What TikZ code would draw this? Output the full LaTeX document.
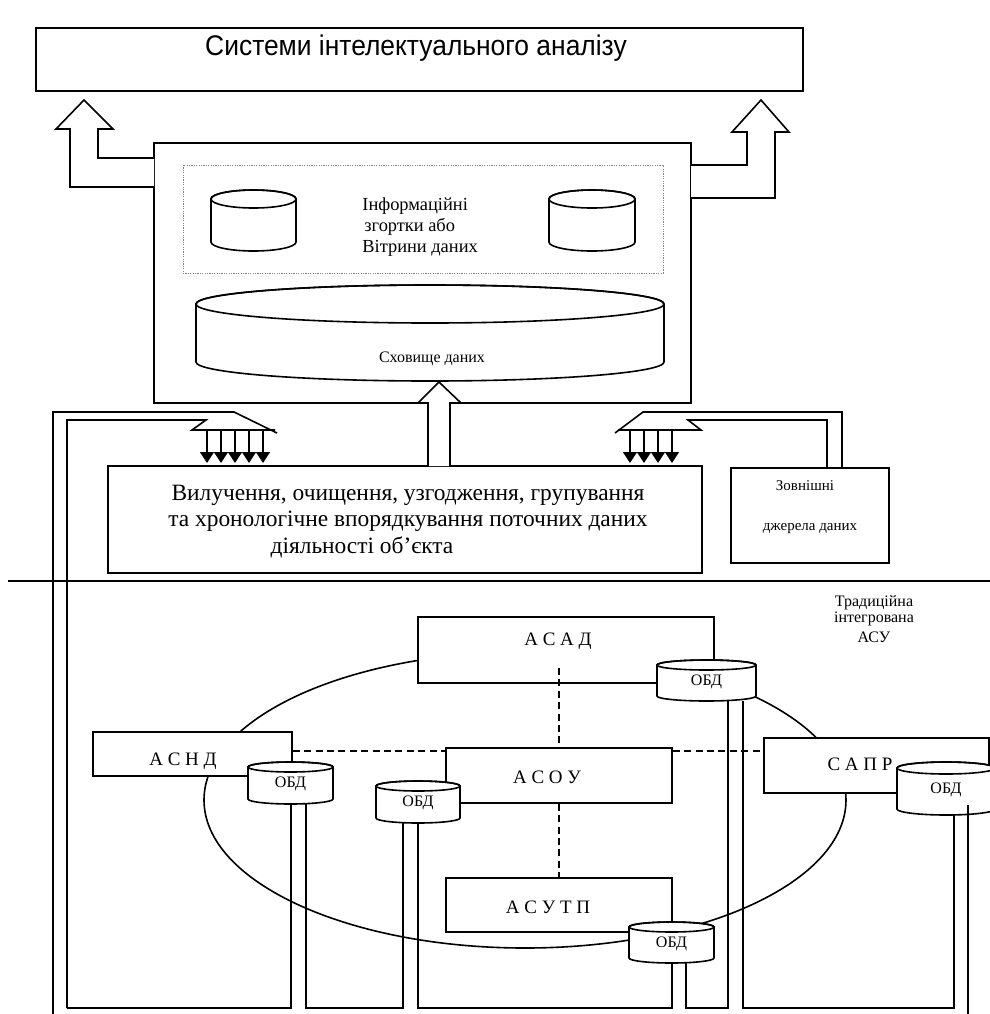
\documentclass[tikz,border=0pt]{standalone}
\usepackage{fontspec}
\setmainfont{Liberation Serif}
\newfontfamily\titlefont[FakeStretch=0.93]{Liberation Sans}
\usetikzlibrary{arrows.meta}

\tikzset{
  pen/.style={line width=0.8pt},
  box/.style={draw, fill=white, line width=0.8pt, inner sep=0pt},
  lbl/.style={inner sep=0pt, font=\fontsize{9.5}{11}\selectfont},
  link/.style={dash pattern=on 3.5pt off 2.2pt, line width=0.7pt},
  bus/.style={line width=0.8pt},
  drop/.style={-{Triangle[width=7pt,length=5.5pt]}, line width=0.6pt},
}

% database cylinder: name, x1, y1 (top), x2, y2 (bottom), ellipse radius, text
\newcommand{\dbcyl}[7]{%
  \pgfmathsetmacro{\cylcx}{(#2+#4)/2}
  \pgfmathsetmacro{\cylrx}{(#4-#2)/2}
  \pgfmathsetmacro{\cylya}{#3+#6}
  \pgfmathsetmacro{\cylyb}{#5-#6}
  \pgfmathsetmacro{\cylw}{(#4-#2)/2}
  \pgfmathsetmacro{\cylh}{(#5-#3)/2}
  \pgfmathsetmacro{\cylcy}{(#3+#5)/2}
  \path[draw, fill=white, line width=0.8pt] (#2,\cylya) -- (#2,\cylyb)
     arc[start angle=180, end angle=0, x radius=\cylrx, y radius=#6] -- (#4,\cylya)
     arc[start angle=0, end angle=-180, x radius=\cylrx, y radius=#6] -- cycle;
  \draw[line width=0.8pt] (\cylcx,\cylya) ellipse[x radius=\cylrx, y radius=#6];
  \node[inner sep=0pt, minimum width=\cylw pt, minimum height=\cylh pt,
        font=\fontsize{8}{9}\selectfont] (#1) at (\cylcx,\cylcy+1) {#7};
}

\begin{document}
\begin{tikzpicture}[x=0.5pt,y=-0.5pt]
\useasboundingbox (0,0) rectangle (990,1014);

% ---------- upper part: data warehouse ----------
\node[box, minimum width=383.5pt, minimum height=31.5pt] (sia) at (419.5,59.5) {};
\node[inner sep=0pt, font=\titlefont\fontsize{14.2}{16}\selectfont] (siat) at (416,48)
  {Системи інтелектуального аналізу};

\node[box, minimum width=268.5pt, minimum height=130pt] (dw) at (422.5,273) {};
\node[draw=gray, dash pattern=on 0.6pt off 0.6pt, line width=0.5pt, inner sep=0pt,
      minimum width=240pt, minimum height=54pt] (marts) at (423,219) {};

\dbcyl{mart1}{211}{190}{296}{251}{9}{}
\dbcyl{mart2}{549}{190}{635}{251}{9}{}
\node[align=left, anchor=west, inner sep=0pt, font=\fontsize{9.2}{10.6}\selectfont] (martt)
  at (362,227) {Інформаційні\\\hspace*{1pt}згортки або\\Вітрини даних};

\dbcyl{store}{196}{285}{664}{381}{19}{}
\node[inner sep=0pt, font=\fontsize{8}{9}\selectfont] (storet) at (432,359) {Сховище даних};

% hollow arrows up to the analysis systems
\draw[pen, fill=white] (154,187) -- (70,187) -- (70,129) -- (56,129) -- (84,100)
  -- (113,129) -- (98,129) -- (98,158) -- (154,158);
\draw[pen, fill=white] (691,165) -- (747,165) -- (747,132) -- (732,132) -- (761,100)
  -- (789,132) -- (775,132) -- (775,198) -- (691,198);

% ---------- extraction layer ----------
\node[box, minimum width=297pt, minimum height=53.5pt] (proc) at (405,519.5) {};
\node[inner sep=0pt, font=\fontsize{11.7}{13}\selectfont] (proc1) at (408,495)
  {Вилучення, очищення, узгодження, групування};
\node[inner sep=0pt, font=\fontsize{11.7}{13}\selectfont] (proc2) at (408,521)
  {та хронологічне впорядкування поточних даних};
\node[inner sep=0pt, font=\fontsize{11.7}{13}\selectfont] (proc3) at (362,547)
  {діяльності об’єкта};

\node[box, minimum width=79pt, minimum height=47.5pt] (ext) at (810,515.5) {};
\node[inner sep=0pt, font=\fontsize{7.5}{9}\selectfont] (ext1) at (805,486) {Зовнішні};
\node[inner sep=0pt, font=\fontsize{7.5}{9}\selectfont] (ext2) at (810,529) {джерела даних};

% central hollow arrow
\draw[pen, fill=white] (428,466) -- (428,403) -- (418,403) -- (439,382) -- (461,403)
  -- (450,403) -- (450,466);

% left intake funnel
\draw[pen] (53,1014) -- (53,412) -- (234,412) -- (277,433);
\draw[pen] (67,1008) -- (67,420) -- (206,420) -- (192,430) -- (275,430);
\foreach \x in {207,221,235,249,263}
  \draw[drop] (\x,430) -- (\x,463);

% right intake funnel
\draw[pen] (842,468) -- (842,412) -- (643,412) -- (615,433);
\draw[pen] (827,468) -- (827,420) -- (688,420) -- (701,430) -- (618,430);
\foreach \x in {630,644,658,672}
  \draw[drop] (\x,430) -- (\x,463);

% separator
\draw[pen] (8,581) -- (990,581);

% ---------- lower part: integrated ACS ----------
\node[inner sep=0pt, align=center, font=\fontsize{8}{6}\selectfont] (tradt) at (874,619)
  {Традиційна\\інтегрована\\[2pt]АСУ};

\draw[pen] (525,800) ellipse[x radius=321, y radius=148];

\node[box, minimum width=148pt, minimum height=33pt] (asad) at (566,650) {};
\node[box, minimum width=99.5pt, minimum height=22pt] (asnd) at (192.5,754) {};
\node[box, minimum width=113pt, minimum height=27.5pt] (asou) at (559,775.5) {};
\node[box, minimum width=113pt, minimum height=27pt] (asutp) at (559,905) {};
\node[box, minimum width=112.5pt, minimum height=27.5pt] (sapr) at (876.5,765.5) {};

\node[lbl] (asadt) at (558,641) {А С А Д};
\node[lbl] (asndt) at (183,761) {А С Н Д};
\node[lbl] (asout) at (547,777) {А С О У};
\node[lbl] (asutpt) at (548,907) {А С У Т П};
\node[lbl] (saprt) at (860,764) {С А П Р};

\dbcyl{obdasad}{657}{660}{756}{701}{5}{ОБД}
\dbcyl{obdasnd}{248}{762}{333}{804}{5}{ОБД}
\dbcyl{obdasou}{376}{781}{460}{823}{5}{ОБД}
\dbcyl{obdasutp}{629}{922}{714}{963}{5}{ОБД}
\dbcyl{obdsapr}{897}{762}{995}{815}{6}{ОБД}

% dashed links between subsystems
\draw[link] (asnd.east |- 0,751) -- (asou.west |- 0,751);
\draw[link] (asou.east |- 0,751) -- (sapr.west |- 0,751);
\draw[link] (559,668) -- (asou.north -| 559,0);
\draw[link] (asou.south -| 559,0) -- (asutp.north -| 559,0);

% data bus from the local databases
\draw[bus] (67,1008) -- (291,1008) -- (291,804);
\draw[bus] (306,804) -- (306,1008) -- (403,1008) -- (403,823);
\draw[bus] (418,823) -- (418,1008) -- (672,1008) -- (672,963);
\draw[bus] (686,963) -- (686,1008) -- (728,1008) -- (728,701);
\draw[bus] (743,701) -- (743,1008) -- (954,1008) -- (954,815);
\draw[bus] (968,805) -- (968,1014);
\end{tikzpicture}
\end{document}
